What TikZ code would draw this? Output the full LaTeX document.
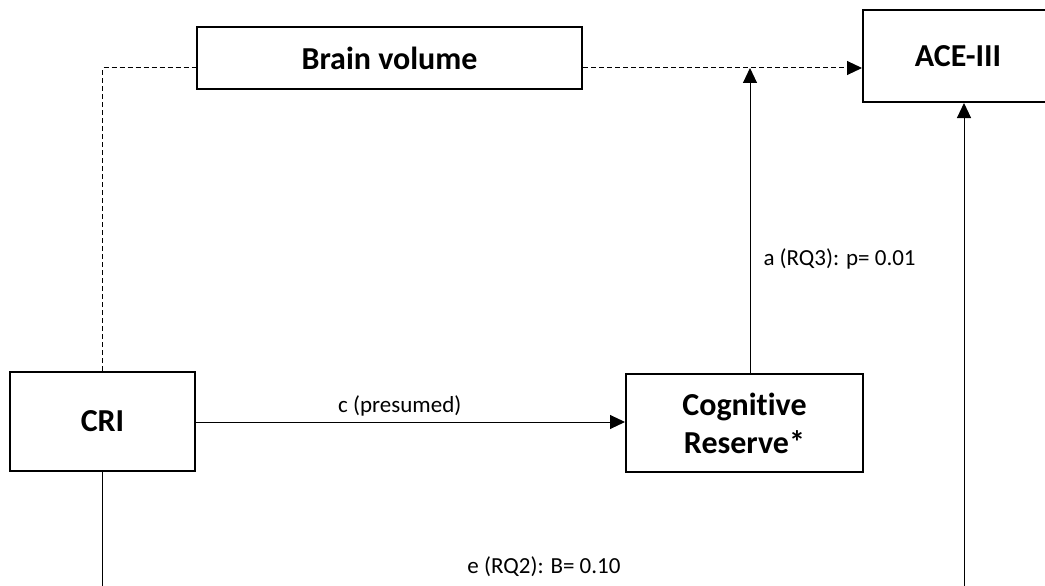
\documentclass[tikz,border=0pt]{standalone}
\usepackage{fontspec}
\setmainfont{Carlito}[Ligatures=NoCommon]
\usetikzlibrary{arrows.meta,calc}
\begin{document}
\begin{tikzpicture}[x=1pt,y=-1pt,
  box/.style={draw,line width=2pt,fill=white,inner sep=0pt,align=center,
    font=\fontsize{32}{38}\selectfont\bfseries},
  link/.style={line width=1pt},
  tip/.style={-{Triangle[length=15pt,width=14pt]}},
  dashlink/.style={link,dash pattern=on 5pt off 3pt},
  lbl/.style={font=\fontsize{23}{28}\selectfont,inner sep=0pt}]
% canvas
\clip (0,0) rectangle (1045,586);
\fill[white] (0,0) rectangle (1045,586);

% boxes
\node[box,minimum width=385pt,minimum height=62pt] (bv)  at (389.5,58)  {Brain volume};
\node[box,minimum width=190pt,minimum height=92pt] (ace) at (958,56)    {ACE-III};
\node[box,minimum width=185pt,minimum height=99pt] (cri) at (102.5,421.5) {CRI};
\node[box,minimum width=237pt,minimum height=98pt] (cog) at (744.5,423) {Cognitive\\Reserve*};

% helper points
\coordinate (lvl) at (0,68);
\coordinate (crib) at (101,600);
\coordinate (aceb) at (964,600);

% brain volume path (dashed)
\draw[dashlink] (cri.north) |- (bv.west |- lvl);
\draw[dashlink,tip] (bv.east |- lvl) -- (ace.west |- lvl);

% CRI -> cognitive reserve
\draw[link,tip] (cri.east |- 0,422) -- (cog.west |- 0,422)
  node[lbl,above=5pt,pos=0.475] (clbl) {c (presumed)};

% cognitive reserve -> brain volume path
\draw[link,tip] (750,0 |- cog.north) -- (750,0 |- lvl)
  node[lbl,anchor=west,pos=0.373,xshift=13pt] (albl) {a (RQ3): p= 0.01};

% direct path CRI -> ACE-III
\draw[link] (crib -| cri.south) -- (cri.south);
\draw[link,tip] (aceb) -- (aceb |- ace.south);
\node[lbl] (elbl) at (544,567) {e (RQ2): B= 0.10};
\end{tikzpicture}
\end{document}
